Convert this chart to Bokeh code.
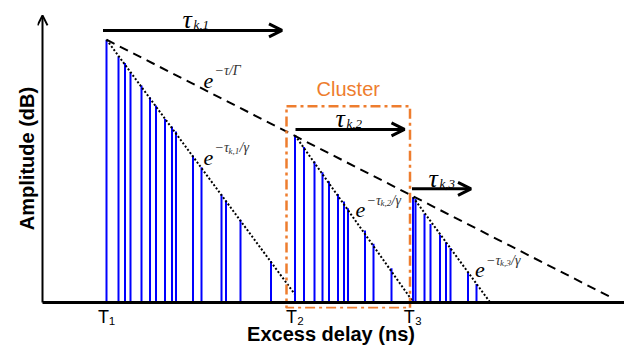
from bokeh.plotting import figure
from bokeh.models import Arrow, OpenHead, FixedTicker, Range1d
from bokeh.core.properties import value
from bokeh.embed import file_html
from bokeh.resources import INLINE

# ---------------- data (excess delay in ns, amplitude in relative dB) ----------------
c1_delay = [12.8, 15.2, 16.5, 17.6, 19.8, 21.5, 22.7, 24.5, 25.9, 26.7, 30.1, 31.8, 35.8, 36.7, 39.6, 45.7]
c1_amp = [87.6, 82.0, 79.8, 76.8, 72.3, 68.4, 65.7, 61.2, 58.7, 57.0, 49.0, 45.1, 36.0, 34.0, 27.6, 13.8]
c2_delay = [50.5, 52.3, 54.4, 56.0, 57.3, 59.1, 60.3, 61.1, 64.5, 66.2, 69.8]
c2_amp = [55.7, 51.8, 47.0, 43.4, 40.4, 36.2, 33.7, 31.4, 24.0, 19.6, 11.4]
c3_delay = [74.1, 74.6, 76.4, 77.6, 79.5, 80.7, 81.6, 85.1, 86.8]
c3_amp = [35.1, 34.6, 29.6, 26.2, 22.6, 20.1, 18.2, 10.1, 6.2]

cluster_T = [12.8, 50.5, 74.1]
tick_labels = ["T\u2081", "T\u2082", "T\u2083"]

# cluster envelope  e^{-tau/Gamma}
env_delay = [12.8, 114.2]
env_amp = [87.6, 1.3]
# ray envelopes  e^{-tau_{k,l}/gamma}
ray1_delay = [12.8, 50.4]
ray1_amp = [87.6, 2.9]
ray2_delay = [50.5, 73.9]
ray2_amp = [55.7, 0.7]
ray3_delay = [74.1, 89.5]
ray3_amp = [35.1, 0.1]

# tau arrows: (start, end, level)
tau_start = [12.1, 50.6, 73.9]
tau_end = [47.9, 72.4, 85.7]
tau_level = [90.7, 57.7, 37.9]

# highlighted cluster box
box_left, box_right, box_bottom, box_top = 48.8, 73.5, -1.8, 65.4

X_MIN, X_MAX = -1.0, 116.4
Y_MIN, Y_MAX = -2.0, 98.0
Y_TOP = 95.7

ORANGE = "#EE7D2E"
BLUE = "#0000FF"

p = figure(width=624, height=347, output_backend="svg", toolbar_location=None,
           x_range=Range1d(X_MIN, X_MAX), y_range=Range1d(Y_MIN, Y_MAX),
           min_border_left=37, min_border_right=0, min_border_top=8, min_border_bottom=39)
p.outline_line_color = None
p.grid.visible = False
p.background_fill_color = "white"

# axes (labels only; axis lines drawn as arrows/lines below)
p.xaxis.ticker = FixedTicker(ticks=cluster_T)
p.xaxis.major_label_overrides = {t: s for t, s in zip(cluster_T, tick_labels)}
p.xaxis.axis_line_color = None
p.xaxis.major_tick_line_color = None
p.xaxis.minor_tick_line_color = None
p.xaxis.major_tick_out = 0
p.xaxis.major_tick_in = 0
p.xaxis.major_label_standoff = -2
p.xaxis.major_label_text_font = "Liberation Sans"
p.xaxis.major_label_text_font_size = "18px"
p.xaxis.major_label_text_line_height = 1.0
p.xaxis.major_label_text_color = "black"
p.xaxis.axis_label = "Excess delay (ns)"
p.xaxis.axis_label_standoff = -7
p.xaxis.axis_label_text_font = "Liberation Sans"
p.xaxis.axis_label_text_font_style = "bold"
p.xaxis.axis_label_text_font_size = "20px"
p.xaxis.axis_label_text_line_height = 1.0
p.xaxis.axis_label_text_color = "black"

p.yaxis.ticker = FixedTicker(ticks=[])
p.yaxis.axis_line_color = None
p.yaxis.major_tick_line_color = None
p.yaxis.minor_tick_line_color = None
p.yaxis.major_tick_out = 0
p.yaxis.major_tick_in = 0
p.yaxis.major_label_standoff = 0
p.yaxis.axis_label = "Amplitude (dB)"
p.yaxis.axis_label_standoff = 0
p.yaxis.axis_label_text_font = "Liberation Sans"
p.yaxis.axis_label_text_font_style = "bold"
p.yaxis.axis_label_text_font_size = "20px"
p.yaxis.axis_label_text_color = "black"

# rays
for d, a in ((c1_delay, c1_amp), (c2_delay, c2_amp), (c3_delay, c3_amp)):
    p.segment(x0=d, y0=[0] * len(d), x1=d, y1=a, line_color=BLUE, line_width=2)

# envelopes
p.line(env_delay, env_amp, line_color="black", line_width=2, line_dash="9 6")
for d, a in ((ray1_delay, ray1_amp), (ray2_delay, ray2_amp), (ray3_delay, ray3_amp)):
    p.line(d, a, line_color="black", line_width=2, line_dash="2 2")

# cluster box
p.quad(left=[box_left], right=[box_right], bottom=[box_bottom], top=[box_top],
       fill_color=None, line_color=ORANGE, line_width=2.5, line_dash="10 4 3 4")
p.text(x=[(box_left + box_right) / 2], y=[71.2], text=["Cluster"], text_align="center",
       text_baseline="middle", text_font=value("Liberation Sans"), text_font_size="20px",
       text_color=ORANGE)

# baseline (x axis) and amplitude axis arrow
p.segment(x0=[0], y0=[0], x1=[X_MAX], y1=[0], line_color="black", line_width=3)
p.add_layout(Arrow(x_start=0, y_start=0, x_end=0, y_end=Y_TOP, line_width=2, line_color="black",
                   end=OpenHead(size=10, line_width=2, line_color="black")))

# tau arrows
for xs, xe, lv in zip(tau_start, tau_end, tau_level):
    p.add_layout(Arrow(x_start=xs, y_start=lv, x_end=xe, y_end=lv, line_width=3, line_color="black",
                       end=OpenHead(size=13, line_width=3, line_color="black")))


def math_label(x, y, pieces):
    for txt, size, dx, dy, col in pieces:
        p.text(x=[x], y=[y], text=[txt], x_offset=dx, y_offset=dy - 3,
               text_font=value("Liberation Serif"), text_font_style="italic",
               text_font_size=f"{size}px", text_baseline="alphabetic", text_align="left",
               text_color=col)


# tau_{k,l} labels
tau_lbl_x = [28.0, 58.6, 77.2]
tau_lbl_y = [93.5, 60.5, 40.5]
for i, (x, y) in enumerate(zip(tau_lbl_x, tau_lbl_y)):
    math_label(x, y, [("\u03c4", 26, 0, 0, "black"), (f"k,{i + 1}", 13, 11, 5, "black")])

# exponent labels
math_label(32.2, 73.0, [("e", 22, 0, 0, "black"), ("\u2212\u03c4/\u0393", 14, 11, -10, "#333333")])
exp_x = [32.2, 62.6, 86.5]
exp_y = [47.3, 29.7, 9.7]
for i, (x, y) in enumerate(zip(exp_x, exp_y)):
    math_label(x, y, [("e", 22, 0, 0, "black"),
                      ("\u2212\u03c4", 14, 11, -10, "#333333"),
                      (f"k,{i + 1}", 9, 25, -7, "#333333"),
                      ("/\u03b3", 14, 36, -10, "#333333")])

open("out.html", "w").write(file_html(p, INLINE))
